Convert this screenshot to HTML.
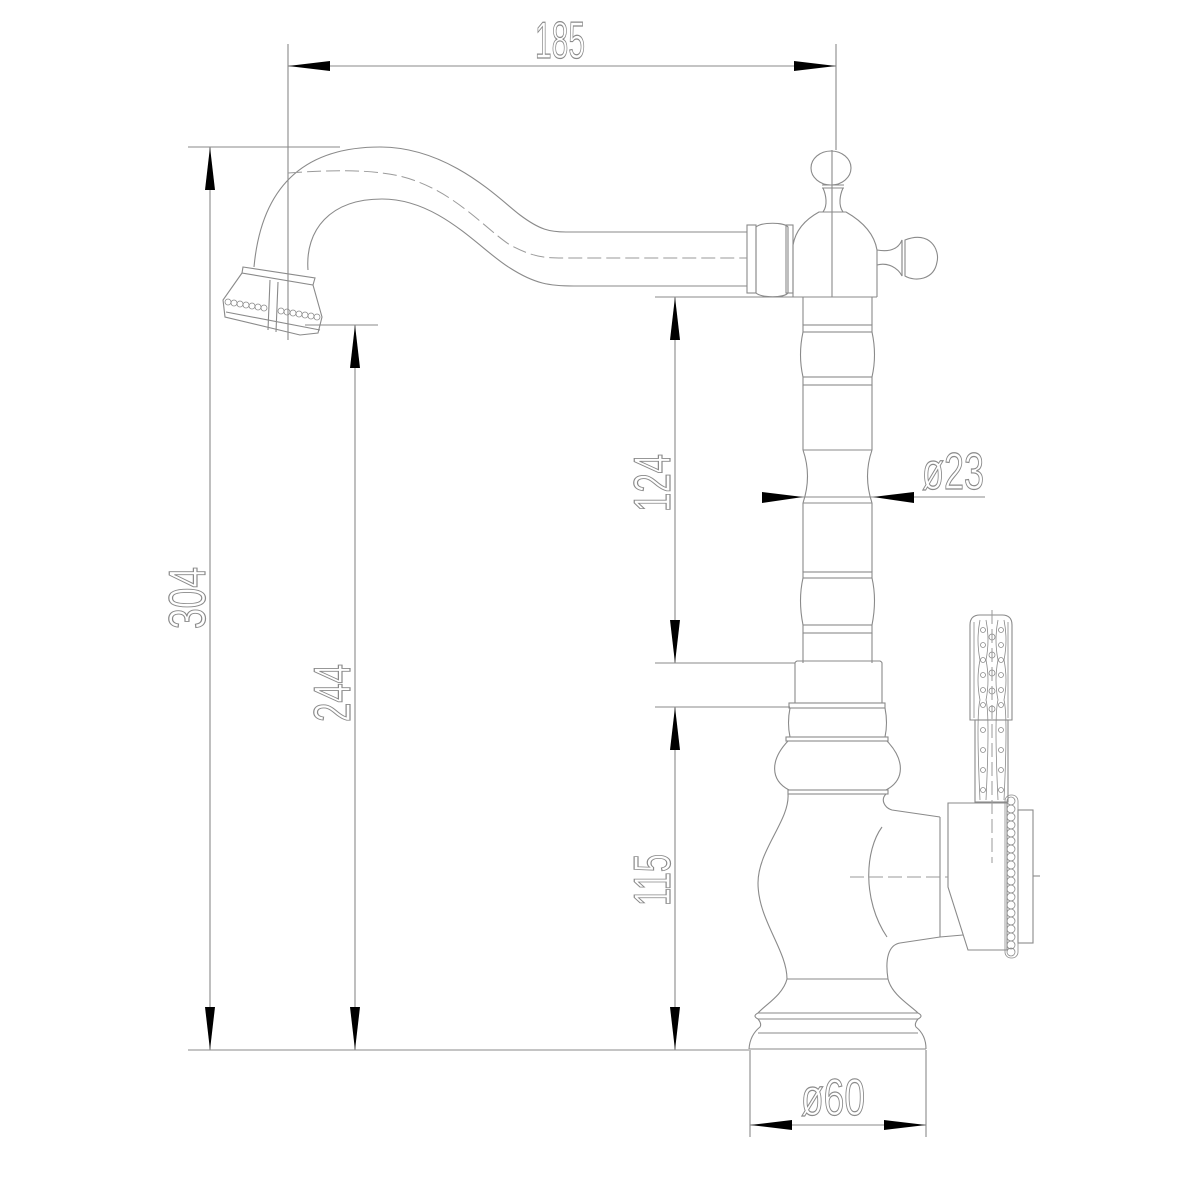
<!DOCTYPE html>
<html><head><meta charset="utf-8"><style>html,body{margin:0;padding:0;background:#fff}svg{display:block}</style></head>
<body>
<svg width="1200" height="1200" viewBox="0 0 1200 1200" xmlns="http://www.w3.org/2000/svg">
<defs>
<style>
.l{fill:none;stroke:#8a8a8a;stroke-width:1.1}
.d{fill:none;stroke:#9a9a9a;stroke-width:1;stroke-dasharray:14 5}
.t{font-family:"Liberation Sans",sans-serif;font-size:52px;fill:none;stroke:#8a8a8a;stroke-width:1.2}
.b{fill:none;stroke:#8a8a8a;stroke-width:0.8}
</style>
</defs>
<rect width="1200" height="1200" fill="#fff"/>

<!-- dimension / extension lines -->
<g class="l">
<line x1="288" y1="44" x2="288" y2="340"/>
<line x1="836" y1="44" x2="836" y2="150"/>
<line x1="288" y1="66" x2="836" y2="66"/>
<line x1="188" y1="147" x2="340" y2="147"/>
<line x1="210" y1="147" x2="210" y2="1050"/>
<line x1="188" y1="1050" x2="749" y2="1050"/>
<line x1="305" y1="325" x2="378" y2="325"/>
<line x1="355" y1="325" x2="355" y2="1050"/>
<line x1="655" y1="297" x2="803" y2="297"/>
<line x1="675" y1="297" x2="675" y2="663"/>
<line x1="655" y1="663" x2="795" y2="663"/>
<line x1="655" y1="707" x2="790" y2="707"/>
<line x1="675" y1="707" x2="675" y2="1050"/>
<line x1="762" y1="497" x2="985" y2="497"/>
<line x1="750" y1="1050" x2="750" y2="1137"/>
<line x1="926" y1="1050" x2="926" y2="1137"/>
<line x1="750" y1="1125" x2="926" y2="1125"/>
</g>

<!-- arrowheads -->
<g fill="#000">
<polygon points="288,66 330,61 330,71"/>
<polygon points="836,66 794,61 794,71"/>
<polygon points="210,147 205,190 215,190"/>
<polygon points="210,1050 205,1007 215,1007"/>
<polygon points="355,325 350,368 360,368"/>
<polygon points="355,1050 350,1007 360,1007"/>
<polygon points="675,297 670,340 680,340"/>
<polygon points="675,663 670,620 680,620"/>
<polygon points="675,707 670,750 680,750"/>
<polygon points="675,1050 670,1007 680,1007"/>
<polygon points="803,497 762,492 762,503"/>
<polygon points="873,497 914,492 914,503"/>
<polygon points="750,1125 792,1120 792,1130"/>
<polygon points="926,1125 884,1120 884,1130"/>
</g>

<!-- dimension texts -->
<text class="t" x="560" y="58" text-anchor="middle" textLength="50" lengthAdjust="spacingAndGlyphs">185</text>
<text class="t" transform="translate(205,598) rotate(-90)" text-anchor="middle" textLength="62" lengthAdjust="spacingAndGlyphs">304</text>
<text class="t" transform="translate(350,693) rotate(-90)" text-anchor="middle" textLength="58" lengthAdjust="spacingAndGlyphs">244</text>
<text class="t" transform="translate(670,483) rotate(-90)" text-anchor="middle" textLength="58" lengthAdjust="spacingAndGlyphs">124</text>
<text class="t" transform="translate(670,880) rotate(-90)" text-anchor="middle" textLength="52" lengthAdjust="spacingAndGlyphs">115</text>
<text class="t" x="922" y="489" textLength="62" lengthAdjust="spacingAndGlyphs">ø23</text>
<text class="t" x="801" y="1115" textLength="64" lengthAdjust="spacingAndGlyphs">ø60</text>

<!-- spout -->
<g class="l">
<path d="M254,267 C262,180 310,147 380,147 C450,147 500,200 520,215 C540,230 550,232 566,232 L747,232"/>
<path d="M308,270 C305,230 330,199 382,199 C440,199 480,250 510,268 C535,284 550,286 574,286 L747,286"/>
<!-- nozzle -->
<path d="M243,267 L315,278 L313,285 L242,273 Z"/>
<path d="M242,273 L223,300 L225,317 L300,335 L318,333 L322,317 L313,285"/>
<path d="M226,312 L320,330"/>
<path d="M270,280 L268,330 M278,282 L276,332"/>
<!-- collar -->
<rect x="747" y="225" width="9" height="68"/>
<path d="M756,227 C762,222 784,222 788,227 L788,293 C784,298 762,298 756,293 Z"/>
<rect x="786" y="225" width="7" height="68"/>
<!-- body -->
<path d="M793,297 L793,245 C796,228 808,218 819,212 L846,212 C860,220 874,232 877,250 L877,297"/>
<path d="M793,297 L877,297"/>
<!-- top knob -->
<path d="M823,212 C828,205 826,195 823,188 L843,188 C840,195 838,205 843,212"/>
<line x1="822" y1="185" x2="844" y2="185"/>
<line x1="822" y1="188" x2="844" y2="188"/>
<ellipse cx="831" cy="168" rx="20" ry="17"/>
<!-- right knob -->
<path d="M877,250 C888,252 898,250 902,240 L902,276 C898,268 888,262 877,265"/>
<path d="M905,240 C930,230 940,250 937,262 C934,280 915,282 905,276 Z"/>
<line x1="902" y1="240" x2="902" y2="276"/>
</g>
<path class="d" d="M288,173 C330,170 360,170 382,173 C445,180 480,225 510,245 C535,258 545,258 566,258 L747,258"/>
<line class="l" x1="832" y1="150" x2="832" y2="297"/>
<!-- nozzle beads -->
<g class="b">
<circle cx="228" cy="302" r="3"/><circle cx="234" cy="303" r="3"/><circle cx="240" cy="304" r="3"/><circle cx="246" cy="305" r="3"/><circle cx="252" cy="306" r="3"/><circle cx="258" cy="307" r="3"/><circle cx="264" cy="308" r="3"/>
<circle cx="281" cy="311" r="3"/><circle cx="287" cy="312" r="3"/><circle cx="293" cy="313" r="3"/><circle cx="299" cy="314" r="3"/><circle cx="305" cy="315" r="3"/><circle cx="311" cy="316" r="3"/><circle cx="317" cy="317" r="3"/>
</g>

<!-- stem -->
<g class="l">
<path d="M803,297 L803,325 M872,297 L872,325"/>
<rect x="803" y="325" width="69" height="7"/>
<path d="M803,332 Q798,355 803,377 M872,332 Q877,355 872,377"/>
<rect x="803" y="377" width="69" height="8"/>
<path d="M803,385 L803,450 M872,385 L872,450 M803,450 L872,450"/>
<path d="M803,450 Q812,476 803,503 M872,450 Q863,476 872,503"/>
<path d="M803,503 L872,503 M803,503 L803,572 M872,503 L872,572"/>
<rect x="803" y="572" width="69" height="6"/>
<path d="M803,578 Q798,600 803,625 M872,578 Q877,600 872,625"/>
<rect x="803" y="625" width="69" height="8"/>
<path d="M803,633 L803,663 M872,633 L872,663"/>
<!-- collar block -->
<path d="M795,663 L795,703 L882,703 L882,663 Q882,662 880,661 L797,661 Q795,662 795,663Z"/>
<rect x="789" y="703" width="96" height="5"/>
<path d="M790,708 Q787,723 790,737 M885,708 Q888,723 885,737"/>
<rect x="786" y="737" width="102" height="4"/>
<path d="M788,741 C770,760 770,780 789,790 M887,741 C905,760 905,780 886,790"/>
<rect x="788" y="790" width="100" height="4"/>
<!-- main body -->
<path d="M788,794 C790,820 758,850 758,883 C758,920 787,950 787,979"/>
<path d="M886,794 C880,800 885,808 892,810 L940,817"/>
<path d="M888,979 C885,960 888,945 900,943 L940,937 L963,935"/>
<path d="M882,827 C865,850 862,900 887,937"/>
<line x1="787" y1="979" x2="888" y2="979"/>
<path d="M787,979 C783,995 765,1005 758,1013 M888,979 C892,995 910,1005 918,1013"/>
<path d="M758,1013 Q752,1016 758,1019 M918,1013 Q924,1016 918,1019"/>
<line x1="758" y1="1013" x2="918" y2="1013"/>
<line x1="758" y1="1019" x2="918" y2="1019"/>
<path d="M758,1019 Q762,1024 760,1027 Q750,1035 749,1049 M918,1019 Q914,1024 916,1027 Q926,1035 926,1049"/>
<line x1="758" y1="1033" x2="918" y2="1033"/>
<line x1="749" y1="1049" x2="926" y2="1049"/>
<!-- side handle block -->
<path d="M940,817 L940,937"/>
<path d="M948,803 L1007,803 L1007,950 L968,950 L948,887 L948,803 Z"/>
<rect x="1018" y="810" width="15" height="133"/>
<line x1="1033" y1="876" x2="1040" y2="876"/>
<!-- lever -->
<path d="M970,720 L970,625 Q970,615 980,615 L1002,615 Q1012,615 1012,625 L1012,720 Z"/>
<rect x="975" y="720" width="33" height="82"/>
</g>
<path class="d" d="M850,877 L948,877"/>
<path class="d" d="M992,610 L992,863"/>
<!-- bead ring -->
<g class="b">
<rect x="1005" y="795" width="13" height="163" rx="6"/>
<circle cx="1011" cy="801" r="4"/><circle cx="1011" cy="809" r="4"/><circle cx="1011" cy="817" r="4"/><circle cx="1011" cy="825" r="4"/><circle cx="1011" cy="833" r="4"/><circle cx="1011" cy="841" r="4"/><circle cx="1011" cy="849" r="4"/><circle cx="1011" cy="857" r="4"/><circle cx="1011" cy="865" r="4"/><circle cx="1011" cy="873" r="4"/><circle cx="1011" cy="881" r="4"/><circle cx="1011" cy="889" r="4"/><circle cx="1011" cy="897" r="4"/><circle cx="1011" cy="905" r="4"/><circle cx="1011" cy="913" r="4"/><circle cx="1011" cy="921" r="4"/><circle cx="1011" cy="929" r="4"/><circle cx="1011" cy="937" r="4"/><circle cx="1011" cy="945" r="4"/><circle cx="1011" cy="952" r="4"/>
</g>
<!-- lever beading -->
<g class="b">
<path d="M974,622 L974,718 M1008,622 L1008,718"/>
<path d="M980,620 Q976,640 980,660 Q976,680 980,700 Q976,715 980,800"/>
<path d="M986,620 Q990,640 986,660 Q990,680 986,700 Q990,715 986,800"/>
<path d="M998,620 Q994,640 998,660 Q994,680 998,700 Q994,715 998,800"/>
<path d="M1004,620 Q1008,640 1004,660 Q1008,680 1004,700 Q1008,715 1004,800"/>
<circle cx="983" cy="630" r="2.5"/><circle cx="983" cy="645" r="2.5"/><circle cx="983" cy="660" r="2.5"/><circle cx="983" cy="675" r="2.5"/><circle cx="983" cy="690" r="2.5"/><circle cx="983" cy="705" r="2.5"/><circle cx="983" cy="730" r="2.5"/><circle cx="983" cy="750" r="2.5"/><circle cx="983" cy="770" r="2.5"/><circle cx="983" cy="790" r="2.5"/>
<circle cx="1001" cy="630" r="2.5"/><circle cx="1001" cy="645" r="2.5"/><circle cx="1001" cy="660" r="2.5"/><circle cx="1001" cy="675" r="2.5"/><circle cx="1001" cy="690" r="2.5"/><circle cx="1001" cy="705" r="2.5"/><circle cx="1001" cy="730" r="2.5"/><circle cx="1001" cy="750" r="2.5"/><circle cx="1001" cy="770" r="2.5"/><circle cx="1001" cy="790" r="2.5"/>
<circle cx="992" cy="637" r="3"/><circle cx="992" cy="655" r="3"/><circle cx="992" cy="673" r="3"/><circle cx="992" cy="691" r="3"/><circle cx="992" cy="709" r="3"/>
</g>
</svg>
</body></html>
